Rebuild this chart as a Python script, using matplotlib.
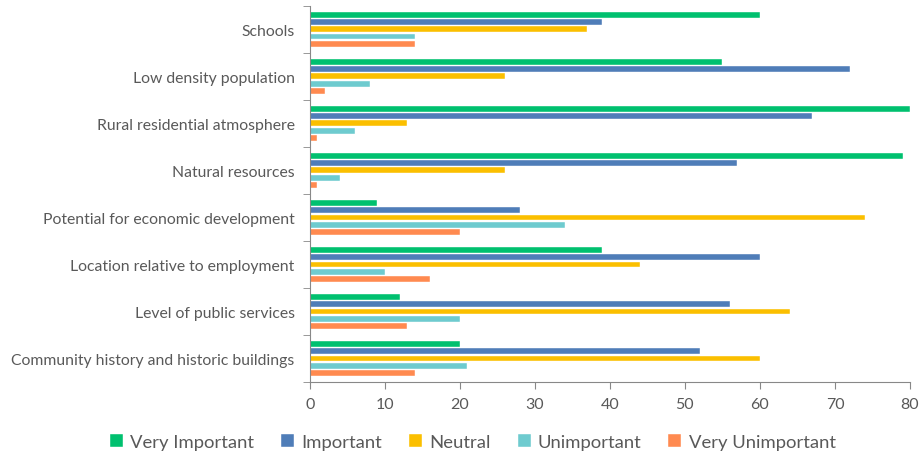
import numpy as np
import matplotlib
matplotlib.use("Agg")
from matplotlib import pyplot as plt

categories = ["Schools", "Low density population", "Rural residential atmosphere",
              "Natural resources", "Potential for economic development",
              "Location relative to employment", "Level of public services",
              "Community history and historic buildings"]
series_names = ["Very Important", "Important", "Neutral", "Unimportant", "Very Unimportant"]
very_important = [60, 55, 80, 79, 9, 39, 12, 20]
important = [39, 72, 67, 57, 28, 60, 56, 52]
neutral = [37, 26, 13, 26, 74, 44, 64, 60]
unimportant = [14, 8, 6, 4, 34, 10, 20, 21]
very_unimportant = [14, 2, 1, 1, 20, 16, 13, 14]
x_ticks = [0, 10, 20, 30, 40, 50, 60, 70, 80]

colors = ["#00C06F", "#4F7DB8", "#FBBF00", "#6ECBCF", "#FF8A50"]
plt.rcParams['font.family'] = ['Lato', 'DejaVu Sans']

fig = plt.figure(figsize=(9.22, 4.56), dpi=100)
ax = fig.add_axes([0.336, 0.160, 0.651, 0.825])

values = [very_important, important, neutral, unimportant, very_unimportant]
y = np.arange(len(categories))
step = 0.153
h = 0.125
for i, (vals, name) in enumerate(zip(values, series_names)):
    ax.barh(y + (i - 2) * step, vals, height=h, color=colors[i], label=name,
            edgecolor="white", linewidth=0.3)

ax.set_ylim(len(categories) - 0.5, -0.5)
ax.set_xlim(0, 80)
ax.set_xticks(x_ticks)
ax.set_yticks(y)
ax.set_yticklabels(categories)
ax.set_yticks(np.arange(len(categories) + 1) - 0.5, minor=True)
ax.tick_params(axis="y", which="major", length=0, pad=11, labelsize=11.3, labelcolor="#595959")
ax.tick_params(axis="y", which="minor", length=5, color="#888888", direction="out")
ax.tick_params(axis="x", length=5, color="#888888", labelsize=11.5, labelcolor="#595959", pad=6)
for s in ["top", "right"]:
    ax.spines[s].set_visible(False)
for s in ["left", "bottom"]:
    ax.spines[s].set_color("#888888")

fig.legend(loc="lower center", ncol=5, frameon=False, fontsize=13.3,
           bbox_to_anchor=(0.513, -0.025), handlelength=0.7, handleheight=0.7,
           handletextpad=0.4, columnspacing=1.45, labelcolor="#595959")

fig.savefig("out.png", dpi=100)
